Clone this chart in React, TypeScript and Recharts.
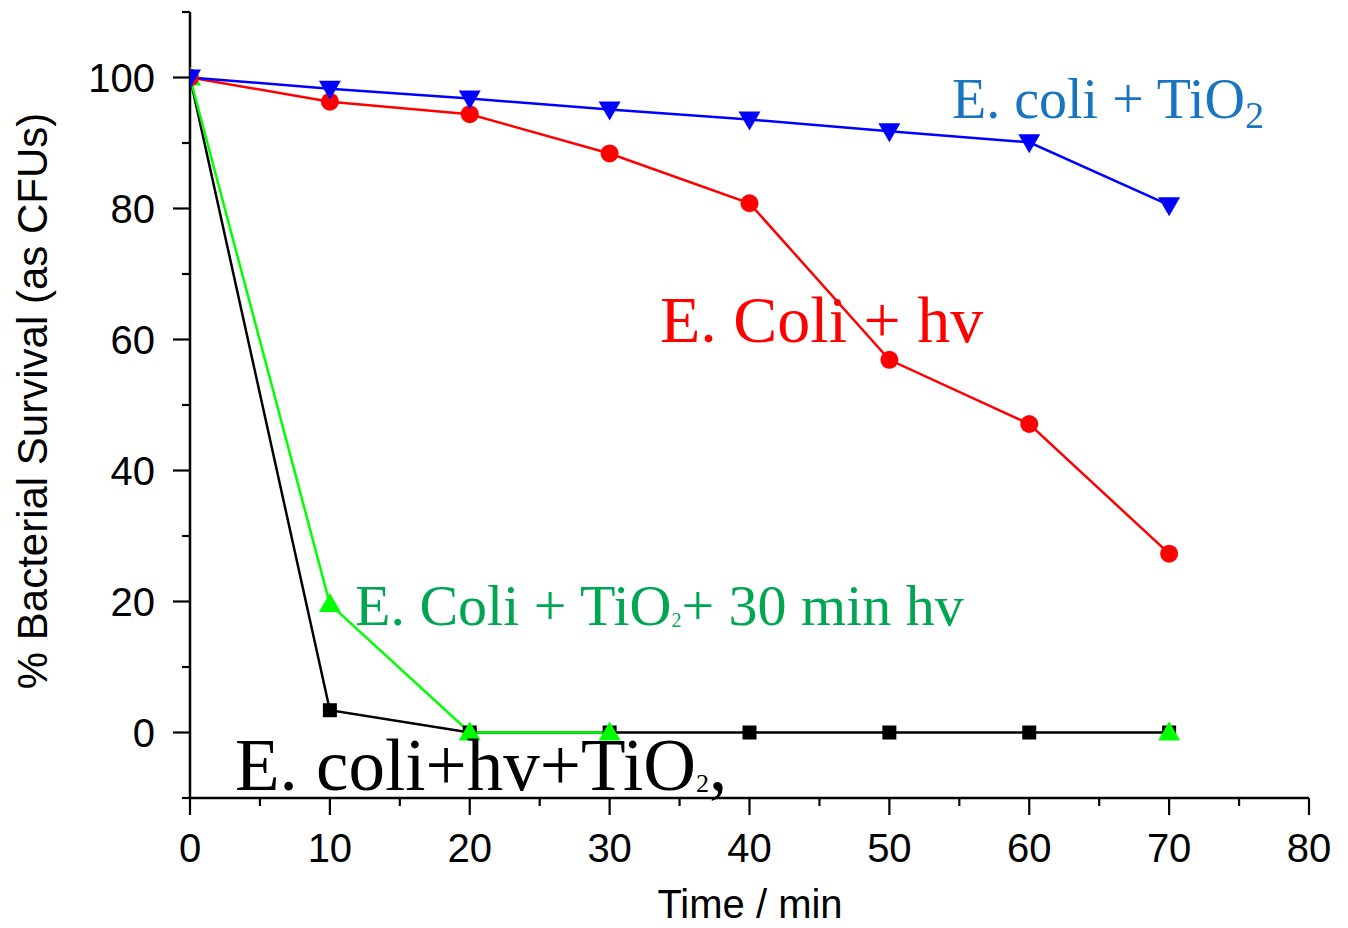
import React from 'react';
import { LineChart, Line, XAxis, YAxis } from 'recharts';

// time points (min)
const times = [0, 10, 20, 30, 40, 50, 60, 70];
// % survival per treatment
const ecoliTiO2 = [100, 98.3, 96.8, 95.1, 93.6, 91.8, 90.1, 80.5];
const ecoliHv = [100, 96.3, 94.4, 88.4, 80.8, 56.9, 47.1, 27.3];
const ecoliTiO2Hv30 = [100, 19.6, 0, 0, null, null, null, 0];
const ecoliHvTiO2 = [100, 3.4, 0, 0, 0, 0, 0, 0];

const xTicks = [0, 5, 10, 15, 20, 25, 30, 35, 40, 45, 50, 55, 60, 65, 70, 75, 80];
const yTicks = [-10, 0, 10, 20, 30, 40, 50, 60, 70, 80, 90, 100, 110];

const data = times.map((t, i) => ({
  t,
  blue: ecoliTiO2[i],
  red: ecoliHv[i],
  green: ecoliTiO2Hv30[i],
  black: ecoliHvTiO2[i],
}));

const sans = '"Liberation Sans", Arial, sans-serif';
const serif = '"Liberation Serif", "Times New Roman", serif';

function XTick({ x, y, payload }: any) {
  const major = payload.value % 10 === 0;
  return (
    <g>
      <line x1={x} y1={y} x2={x} y2={y + (major ? 17 : 8)} stroke="#000" strokeWidth={2.2} />
      {major && (
        <text x={x} y={y + 64} textAnchor="middle" fontSize={40} fontFamily={sans} fill="#000">
          {payload.value}
        </text>
      )}
    </g>
  );
}

function YTick({ x, y, payload }: any) {
  const v = payload.value;
  const major = v % 20 === 0 && v >= 0 && v <= 100;
  return (
    <g>
      <line x1={x - (major ? 17 : 8)} y1={y} x2={x} y2={y} stroke="#000" strokeWidth={2.2} />
      {major && (
        <text x={x - 35} y={y + 14} textAnchor="end" fontSize={40} fontFamily={sans} fill="#000">
          {v}
        </text>
      )}
    </g>
  );
}

const square = (p: any) => {
  if (p.cy == null || p.value == null) return <g key={p.index} />;
  return <rect key={p.index} x={p.cx - 7} y={p.cy - 7} width={14} height={14} fill="#000" />;
};
const circle = (p: any) => {
  if (p.cy == null) return <g key={p.index} />;
  return <circle key={p.index} cx={p.cx} cy={p.cy} r={9} fill="#ff0000" />;
};
const triUp = (p: any) => {
  if (p.cy == null || p.value == null) return <g key={p.index} />;
  const { cx, cy } = p;
  return <polygon key={p.index} points={`${cx - 11},${cy + 8} ${cx + 11},${cy + 8} ${cx},${cy - 11}`} fill="#00ff00" />;
};
const triDown = (p: any) => {
  if (p.cy == null) return <g key={p.index} />;
  const { cx, cy } = p;
  return <polygon key={p.index} points={`${cx - 11},${cy - 8} ${cx + 11},${cy - 8} ${cx},${cy + 11}`} fill="#0000ff" />;
};

export default function App() {
  return (
    <div style={{ position: 'absolute', left: 0, top: 0, width: 1348, height: 928, background: '#fff' }}>
      <LineChart width={1348} height={928} data={data} margin={{ top: 12, right: 39, bottom: 60, left: 90 }}>
        <XAxis
          type="number"
          dataKey="t"
          domain={[0, 80]}
          ticks={xTicks}
          interval={0}
          tickSize={0}
          tickMargin={0}
          tickLine={false}
          axisLine={{ stroke: '#000', strokeWidth: 2.5 }}
          tick={<XTick />}
          height={70}
          allowDataOverflow
        />
        <YAxis
          type="number"
          domain={[-10, 110]}
          ticks={yTicks}
          interval={0}
          tickSize={0}
          tickMargin={0}
          tickLine={false}
          axisLine={{ stroke: '#000', strokeWidth: 2.5 }}
          tick={<YTick />}
          width={100}
          allowDataOverflow
        />
        <Line type="linear" dataKey="black" stroke="#000" strokeWidth={2.5} dot={square} activeDot={false} isAnimationActive={false} />
        <Line type="linear" dataKey="green" stroke="#00ff00" strokeWidth={2.5} dot={triUp} activeDot={false} connectNulls={false} isAnimationActive={false} />
        <Line type="linear" dataKey="red" stroke="#ff0000" strokeWidth={2.5} dot={circle} activeDot={false} isAnimationActive={false} />
        <Line type="linear" dataKey="blue" stroke="#0000ff" strokeWidth={2.5} dot={triDown} activeDot={false} isAnimationActive={false} />
      </LineChart>
      <svg width={1348} height={928} style={{ position: 'absolute', left: 0, top: 0, pointerEvents: 'none' }}>
        <text x={47} y={401} transform="rotate(-90, 47, 401)" textAnchor="middle" fontSize={42} fontFamily={sans} fill="#000">
          % Bacterial Survival (as CFUs)
        </text>
        <text x={750} y={918} textAnchor="middle" fontSize={40} fontFamily={sans} fill="#000">
          Time / min
        </text>
        <text x={952} y={118} fontSize={56} fontFamily={serif} fill="#1a75c0">
          E. coli + TiO<tspan fontSize={38} dy={10}>2</tspan>
        </text>
        <text x={660} y={342} fontSize={66} fontFamily={serif} fill="#ff0000">
          E. Coli + hv
        </text>
        <text x={355} y={625} fontSize={58} fontFamily={serif} fill="#00a651">
          E. Coli + TiO<tspan fontSize={20} dy={2}>2</tspan><tspan dy={-2}>+ 30 min hv</tspan>
        </text>
        <text x={235} y={790} fontSize={73} fontFamily={serif} fill="#000">
          E. coli+hv+TiO<tspan fontSize={26} dy={2}>2</tspan><tspan dy={-2}>,</tspan>
        </text>
      </svg>
    </div>
  );
}
